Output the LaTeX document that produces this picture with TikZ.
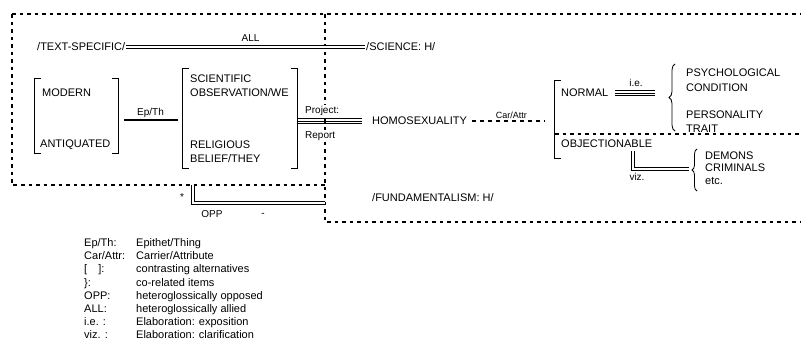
\documentclass[tikz,border=0pt]{standalone}
\usepackage{fontspec}
\setmainfont{Liberation Sans}
\usetikzlibrary{positioning, calc, decorations.pathreplacing}

\tikzset{
  lbl/.style={font=\fontsize{11}{14.5}\selectfont, inner sep=1pt, anchor=west, align=left},
  tag/.style={font=\fontsize{10}{12}\selectfont, inner sep=1pt},
  region/.style={dash pattern=on 3.5pt off 4pt, line width=1.4pt},
  dbl/.style={double, double distance=2pt, line width=0.8pt},
  brk/.style={line width=1pt},
  grp/.style={inner sep=0pt, draw=none},
  curly/.style={decorate, decoration={brace, amplitude=#1}, line width=0.8pt}
}

\begin{document}
\begin{tikzpicture}[x=1pt, y=-1pt]
  \useasboundingbox (0,0) rectangle (801,343);

  % Regions
  \draw[region] (12,14) -- (801,14);
  \draw[region] (12,14) -- (12,185) -- (325,185);
  \draw[region] (325,14) -- (325,222) -- (801,222);
  \draw[region] (555,134) -- (801,134);

  % Top row: allied positions
  \node[lbl] (textspec) at (36,47) {/TEXT-SPECIFIC/};
  \node[lbl] (science) at (365,47) {/SCIENCE: H/};
  \draw[dbl] (textspec) -- (science) node[tag, pos=0.52, above=4pt] {ALL};

  % Contrasting alternatives
  \node[grp, minimum width=83pt, minimum height=74pt] (alt1) at (76.5,116) {};
  \node[grp, minimum width=114pt, minimum height=99pt] (alt2) at (240,118.5) {};
  \node[grp, minimum width=90pt, minimum height=77pt] (alt3) at (600,119.5) {};
  \foreach \g in {alt1,alt2,alt3}
    \draw[brk] ([xshift=6pt]\g.north west) -- (\g.north west) -- (\g.south west) -- ([xshift=6pt]\g.south west);
  \foreach \g in {alt1,alt2}
    \draw[brk] ([xshift=-6pt]\g.north east) -- (\g.north east) -- (\g.south east) -- ([xshift=-6pt]\g.south east);

  \node[lbl] (modern) at (41,93) {MODERN};
  \node[lbl] (antiq) at (39,145) {ANTIQUATED};
  \node[lbl] (sci) at (189,85.5) {SCIENTIFIC\\OBSERVATION/WE};
  \node[lbl] (rel) at (189,151.5) {RELIGIOUS\\BELIEF/THEY};

  \draw[line width=1.2pt, shorten <=6pt, shorten >=5pt] ([yshift=-4pt]alt1.east) -- ([yshift=-4pt]alt1.east -| alt2.west)
    node[tag, midway, above=1pt] {Ep/Th};

  % Projection
  \node[lbl] (homo) at (371,121) {HOMOSEXUALITY};
  \coordinate (projA) at (homo.west -| alt2.east);
  \node[tag, anchor=west, fill=white] (proj) at (304,111) {Project:};
  \node[tag, anchor=west, fill=white] (rep) at (304,136) {Report};
  \foreach \d in {-2.5,0,2.5}
    \draw[line width=0.8pt, shorten >=9pt] ([yshift=\d pt]projA) -- ([yshift=\d pt]homo.west);

  % Carrier/Attribute
  \draw[line width=1.2pt, dash pattern=on 4pt off 4pt, shorten <=4pt, shorten >=10pt]
    (homo.east) -- (homo.east -| alt3.west) node[tag, midway, above=1pt, font=\fontsize{9}{10}\selectfont] {Car/Attr};

  \node[lbl] (normal) at (560,93) {NORMAL};
  \node[lbl] (objec) at (560,144) {OBJECTIONABLE};

  % Elaboration: exposition
  \coordinate (ieEnd) at (655,93);
  \foreach \d in {-2.5,0,2.5}
    \draw[line width=0.8pt] ([xshift=6pt, yshift=\d pt]normal.east) -- ([yshift=\d pt]ieEnd);
  \node[tag] (ie) at (636,83) {i.e.};
  \coordinate (br1a) at (675,131);
  \coordinate (br1b) at (675,64);
  \draw[curly=6pt] (br1a) -- (br1b);
  \node[lbl] (psych) at (685,80) {PSYCHOLOGICAL\\CONDITION};
  \node[lbl] (pers) at (685,121.5) {PERSONALITY\\TRAIT};

  % Elaboration: clarification
  \coordinate (vizA) at (633,151);
  \coordinate (vizB) at (689,169);
  \draw[dbl] (vizA) |- (vizB) node[tag, pos=0.5, below=3pt, xshift=4pt] {viz.};
  \coordinate (br2a) at (697,191);
  \coordinate (br2b) at (697,149);
  \draw[curly=5pt] (br2a) -- (br2b);
  \node[lbl, font=\fontsize{11}{12.5}\selectfont] (demons) at (704,168) {DEMONS\\CRIMINALS\\etc.};

  % Opposed position
  \node[lbl] (fund) at (371,198) {/FUNDAMENTALISM: H/};
  \coordinate (oppA) at (193,185);
  \coordinate (oppB) at (325,203);
  \draw[dbl] (oppA) |- (oppB);
  \node[tag] (star) at (182,197) {*};
  \node[tag] (opp) at (212,214) {OPP};
  \node[tag] (dash) at (263,215) {-};

  % Key
  \node[anchor=north west, inner sep=0pt, font=\fontsize{11}{13.2}\selectfont] (legend) at (84,237) {%
    \begin{tabular}{@{}p{52pt}@{}l@{}}
      Ep/Th: & Epithet/Thing\\
      Car/Attr: & Carrier/Attribute\\
      {[}\quad{]}: & contrasting alternatives\\
      \}: & co-related items\\
      OPP: & heteroglossically opposed\\
      ALL: & heteroglossically allied\\
      i.e. : & Elaboration: exposition\\
      viz. : & Elaboration: clarification
    \end{tabular}};
\end{tikzpicture}
\end{document}
